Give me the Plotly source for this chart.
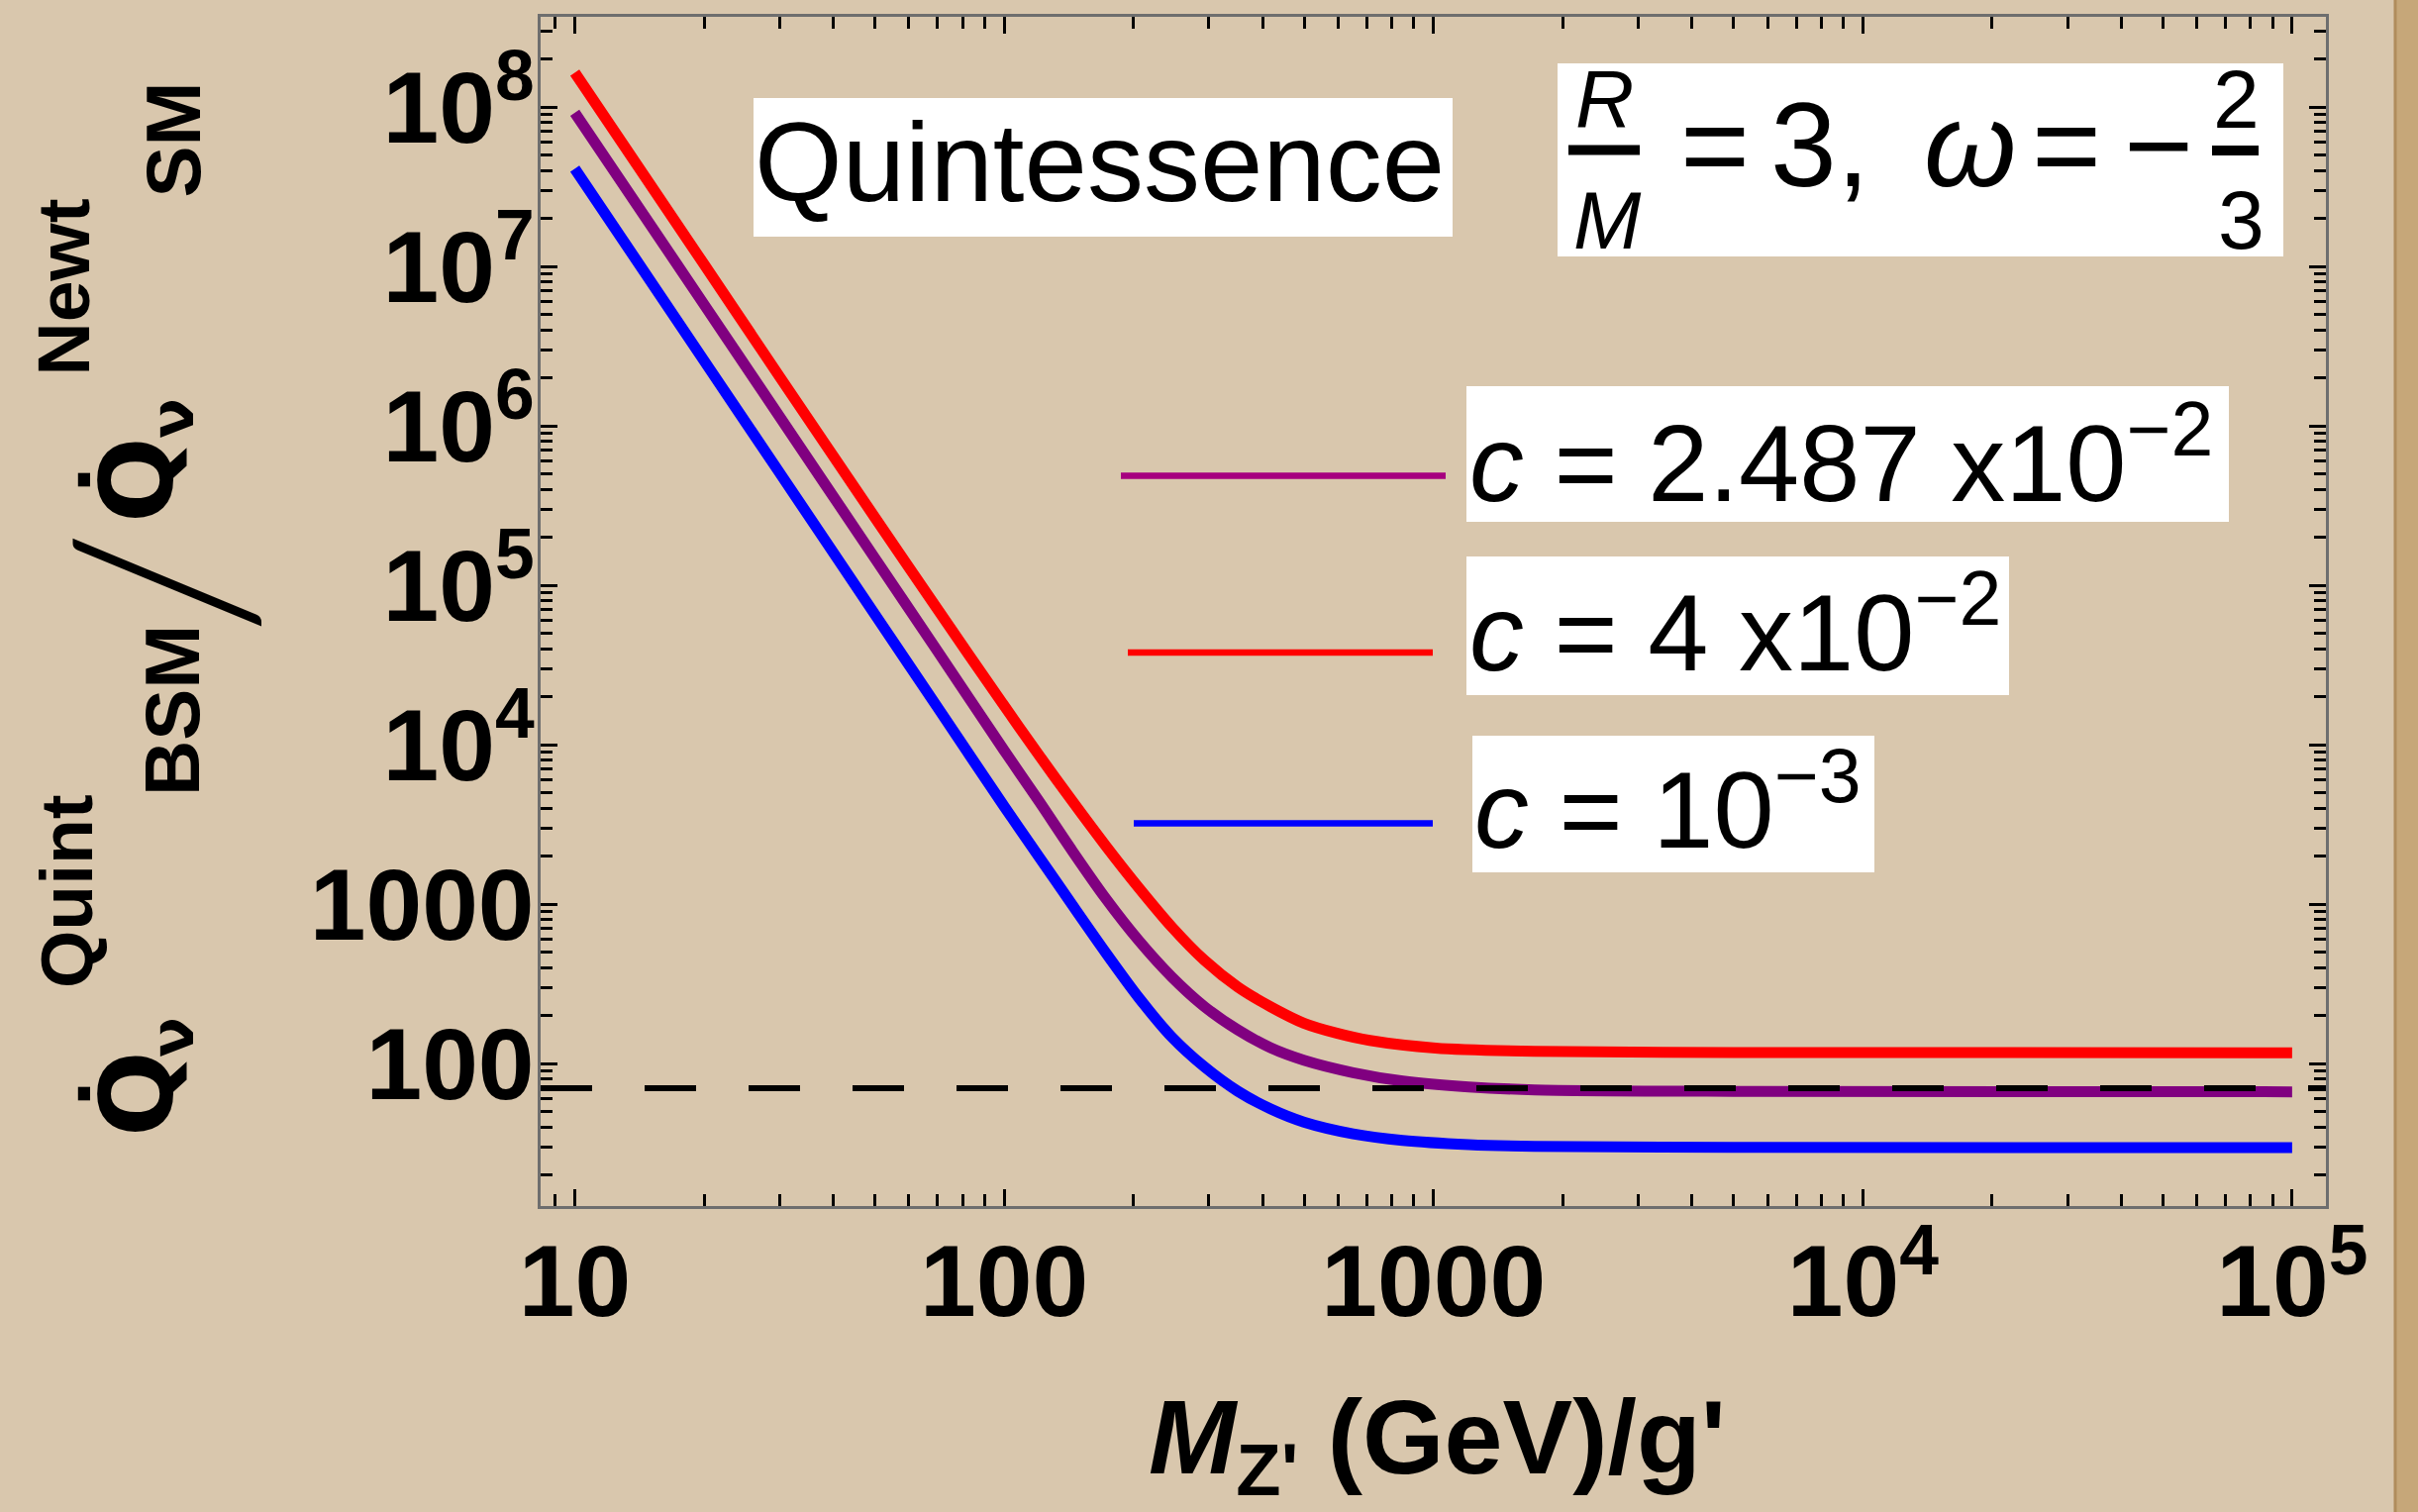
import plotly.graph_objects as go

# ---------------- data ----------------
M_RED = [10, 20, 30, 50, 70, 100, 121, 144, 172, 206, 246, 293, 350, 418, 499, 595, 711, 1012, 1722, 5000, 100000]
V_RED = [1.64e8, 1.03e7, 2.03e6, 2.66e5, 7.05e4, 1.754e4, 8470, 4436, 2339, 1262, 716, 443, 302, 226.6, 179, 155, 139.4, 125, 119.2, 117.2, 116.6]

M_PURPLE = [10, 20, 30, 50, 70, 100, 121, 144, 172, 206, 246, 293, 350, 418, 499, 650, 848, 1208, 1722, 5000, 100000]
V_PURPLE = [9.2e7, 5.77e6, 1.14e6, 1.476e5, 3.85e4, 9.2e3, 4350, 2163, 1094, 589, 348, 227, 162.5, 125.2, 104.8, 87.6, 77.6, 71.3, 68.3, 66.8, 66.4]

M_BLUE = [10, 20, 30, 50, 70, 100, 121, 144, 172, 206, 246, 293, 350, 418, 499, 650, 848, 1208, 1722, 5000, 100000]
V_BLUE = [4.1e7, 2.56e6, 5.07e5, 6.56e4, 1.71e4, 4100, 1950, 990, 500, 258, 146, 95, 67, 51.8, 42.9, 36.2, 32.9, 31.0, 30.2, 29.8, 29.6]

DASH_LEVEL = 70

X_TICK_VALS = [10, 100, 1000, 1e4, 1e5]
X_TICK_TEXT = ["10", "100", "1000", "10<sup>4</sup>", "10<sup>5</sup>"]
Y_TICK_VALS = [100, 1000, 1e4, 1e5, 1e6, 1e7, 1e8]
Y_TICK_TEXT = ["100", "1000", "10<sup>4</sup>", "10<sup>5</sup>", "10<sup>6</sup>", "10<sup>7</sup>", "10<sup>8</sup>"]

LEGEND_LABELS = ["<i>c</i> = 2.487 x10<sup>\u22122</sup>",
                 "<i>c</i> = 4 x10<sup>\u22122</sup>",
                 "<i>c</i> = 10<sup>\u22123</sup>"]
CURVE_COLORS = ["#800080", "#ff0000", "#0000ff"]
SWATCH_COLORS = ["#a6007f", "#ff0000", "#0000ff"]

# ---------------- layout geometry (pixels) ----------------
W, H = 2442, 1527
L, R, T, B = 546, 2349, 17, 1218


def px(x):
    return (x - L) / (R - L)


def py(y):
    return (B - y) / (B - T)


BG = "#d9c7ad"
FONT = "Liberation Sans"

fig = go.Figure()
for M, V, col in [(M_RED, V_RED, CURVE_COLORS[1]),
                  (M_PURPLE, V_PURPLE, CURVE_COLORS[0]),
                  (M_BLUE, V_BLUE, CURVE_COLORS[2])]:
    fig.add_trace(go.Scatter(x=M, y=V, mode="lines",
                             line=dict(color=col, width=11, shape="spline", smoothing=0.8),
                             showlegend=False, hoverinfo="skip"))

shapes = []
# right torn paper strip
shapes.append(dict(type="rect", xref="paper", yref="paper", x0=px(2420), x1=px(2442), y0=py(1527), y1=py(0),
                   fillcolor="#c6a779", line=dict(width=0), layer="below"))
shapes.append(dict(type="line", xref="paper", yref="paper", x0=px(2419), x1=px(2419), y0=py(1527), y1=py(0),
                   line=dict(color="#b08c5c", width=3), layer="below"))
# dashed reference level
shapes.append(dict(type="line", xref="paper", yref="y", x0=0, x1=1, y0=DASH_LEVEL, y1=DASH_LEVEL,
                   line=dict(color="black", width=6, dash="52px,53px")))
# white boxes
for (x0, x1, y0, y1) in [(761, 1467, 99, 239), (1573, 2306, 64, 259),
                         (1481, 2251, 390, 527), (1481, 2029, 562, 702), (1487, 1893, 743, 881)]:
    shapes.append(dict(type="rect", xref="paper", yref="paper", x0=px(x0), x1=px(x1), y0=py(y1), y1=py(y0),
                       fillcolor="white", line=dict(width=0)))
# legend swatches
for (x0, x1, y), col in zip([(1132, 1460, 480.5), (1139, 1447, 659), (1145, 1447, 831.5)], SWATCH_COLORS):
    shapes.append(dict(type="line", xref="paper", yref="paper", x0=px(x0), x1=px(x1), y0=py(y), y1=py(y),
                       line=dict(color=col, width=6.5)))
# fraction bars
for (x0, x1, y) in [(1584, 1656, 151.5), (2234, 2281, 152)]:
    shapes.append(dict(type="line", xref="paper", yref="paper", x0=px(x0), x1=px(x1), y0=py(y), y1=py(y),
                       line=dict(color="black", width=10)))

ann = []


def add_text(text, x, y, size, xanchor="center", yanchor="middle", bold=False, angle=0, family=FONT,
             weight=None):
    w = weight if weight is not None else ("bold" if bold else "normal")
    ann.append(dict(text=text, xref="paper", yref="paper", x=px(x), y=py(y), xanchor=xanchor, yanchor=yanchor,
                    showarrow=False, textangle=angle, borderpad=0, borderwidth=0,
                    font=dict(family=family, size=size, color="black", weight=w)))


# title box
add_text("Quintessence", 762, 163.7, 114, xanchor="left")
# parameter box
add_text("<i>R</i>", 1620, 99.5, 82)
add_text("<i>M</i>", 1623, 222, 82)
add_text("=", 1732, 146, 120)
add_text("3,", 1838, 146, 120)
add_text("<i>\u03c9</i>", 1989, 146, 120)
add_text("=", 2087, 146, 120)
add_text("\u2212", 2180, 146, 120)
add_text("2", 2258, 100, 84)
add_text("3", 2263, 222, 84)
# legend labels (bottom anchored at baseline + descent)
for lab, (x, base) in zip(LEGEND_LABELS, [(1484, 506), (1484, 677), (1489, 856)]):
    add_text(lab, x, base + 0.212 * 110, 110, xanchor="left", yanchor="bottom")
# x axis title
add_text("<i>M</i><sub>Z'</sub> (GeV)/g'", 1451, 1526, 106, yanchor="bottom", bold=True)
# y axis title pieces (rotated)
add_text("Q\u0307", 138, 1105, 102, bold=True, angle=-90, family="DejaVu Sans")
add_text("\u03bd", 174, 1048, 60, bold=True, angle=-90, family="DejaVu Sans")
add_text("Quint", 67, 900, 75, bold=True, angle=-90)
add_text("BSM", 174, 718, 78, bold=True, angle=-90)
add_text("/", 158, 588, 248, angle=-90, family="Lato", weight=300)
add_text("Q\u0307", 138, 485, 102, bold=True, angle=-90, family="DejaVu Sans")
add_text("\u03bd", 174, 423, 60, bold=True, angle=-90, family="DejaVu Sans")
add_text("Newt", 63.5, 290, 75, bold=True, angle=-90)
add_text("SM", 174, 141.5, 78, bold=True, angle=-90)

axis_common = dict(type="log", showline=True, linecolor="#6e6e6e", linewidth=3, mirror="ticks",
                   ticks="inside", ticklen=17, tickwidth=2.5, tickcolor="black",
                   showgrid=False, zeroline=False, tickmode="array",
                   tickfont=dict(family=FONT, size=102, color="black", weight="bold"),
                   minor=dict(ticks="inside", ticklen=12, tickwidth=2.5, tickcolor="black",
                              dtick="D1", showgrid=False))

fig.update_layout(
    width=W, height=H, autosize=False,
    margin=dict(l=L, r=W - R, t=T, b=H - B, pad=0),
    paper_bgcolor=BG, plot_bgcolor=BG,
    showlegend=False,
    xaxis=dict(axis_common, range=[0.92043, 5.0787], tickvals=X_TICK_VALS, ticktext=X_TICK_TEXT,
               ticklabelstandoff=-14),
    yaxis=dict(axis_common, range=[1.10559, 8.5652], tickvals=Y_TICK_VALS, ticktext=Y_TICK_TEXT,
               ticklabelstandoff=-17),
    shapes=shapes, annotations=ann,
)

fig.write_html("out.html")
